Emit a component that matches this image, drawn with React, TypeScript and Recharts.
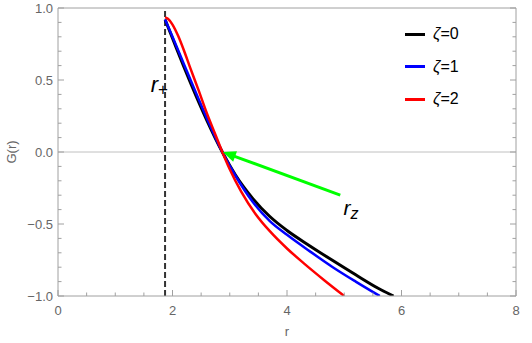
import React from "react";
import { LineChart, Line, XAxis, YAxis, ReferenceLine, ReferenceDot, Legend } from "recharts";

// curve samples (r, G(r))
const rZeta0 = [1.87, 2.0, 2.2, 2.4, 2.6, 2.87, 3.1, 3.4, 3.7, 4.0, 4.4, 4.8, 5.2, 5.6, 5.86];
const gZeta0 = [0.92, 0.79, 0.59, 0.4, 0.22, 0, -0.16, -0.322, -0.448, -0.545, -0.652, -0.754, -0.853, -0.948, -1.0];

const rZeta1 = [1.87, 2.0, 2.2, 2.4, 2.6, 2.87, 3.1, 3.4, 3.7, 4.0, 4.4, 4.8, 5.2, 5.62];
const gZeta1 = [0.92, 0.8, 0.61, 0.42, 0.235, 0, -0.165, -0.345, -0.48, -0.575, -0.69, -0.8, -0.9, -1.0];

const rZeta2 = [1.87, 1.92, 2.0, 2.1, 2.2, 2.3, 2.45, 2.6, 2.75, 2.87, 3.0, 3.2, 3.45, 3.7, 4.0, 4.3, 4.65, 5.0];
const gZeta2 = [0.935, 0.925, 0.885, 0.805, 0.705, 0.595, 0.435, 0.27, 0.12, 0, -0.12, -0.275, -0.43, -0.55, -0.67, -0.775, -0.89, -1.0];

const seriesNames = ["ζ=0", "ζ=1", "ζ=2"];
const zetaValues = ["0", "1", "2"];
const seriesColors = ["#000000", "#0000ff", "#ff0000"];

const xMajorTicks = [0, 2, 4, 6, 8];
const xMinorTicks = [0.5, 1, 1.5, 2.5, 3, 3.5, 4.5, 5, 5.5, 6.5, 7, 7.5];
const yMajorTicks = [-1, -0.5, 0, 0.5, 1];
const yMinorTicks = [-0.9, -0.8, -0.7, -0.6, -0.4, -0.3, -0.2, -0.1, 0.1, 0.2, 0.3, 0.4, 0.6, 0.7, 0.8, 0.9];
const xTickLabels = ["0", "2", "4", "6", "8"];
const yTickLabels = ["\u22121.0", "\u22120.5", "0.0", "0.5", "1.0"];

// annotations
const rPlus = 1.87;
const rZero = 2.88;
const arrowTail = { x: 4.93, y: -0.3 };
const rPlusLabelAt = { x: 1.87, y: 0.45 };
const rZLabelAt = { x: 4.95, y: -0.4 };

const zip = (rs: number[], gs: number[]) => rs.map((r, i) => ({ r, g: gs[i] }));
const series = [zip(rZeta0, gZeta0), zip(rZeta1, gZeta1), zip(rZeta2, gZeta2)];

const xTicks = [...xMajorTicks, ...xMinorTicks].sort((a, b) => a - b);
const yTicks = [...yMajorTicks, ...yMinorTicks].sort((a, b) => a - b);

const FONT = "'Liberation Sans', Arial, sans-serif";
const FRAME = "#a0a0a0";
const LABEL = "#666666";

const BottomTick = (props: any) => {
  const { x, y, payload } = props;
  const i = xMajorTicks.indexOf(payload.value);
  const len = i >= 0 ? 6 : 3.5;
  return (
    <g>
      <line x1={x} y1={y} x2={x} y2={y - len} stroke={FRAME} />
      {i >= 0 && (
        <text x={x} y={y + 19} textAnchor="middle" fill={LABEL} fontSize={13} fontFamily={FONT}>
          {xTickLabels[i]}
        </text>
      )}
    </g>
  );
};

const TopTick = (props: any) => {
  const { x, y, payload } = props;
  const len = xMajorTicks.includes(payload.value) ? 6 : 3.5;
  return <line x1={x} y1={y} x2={x} y2={y + len} stroke={FRAME} />;
};

const LeftTick = (props: any) => {
  const { x, y, payload } = props;
  const i = yMajorTicks.indexOf(payload.value);
  const len = i >= 0 ? 6 : 3.5;
  return (
    <g>
      <line x1={x} y1={y} x2={x + len} y2={y} stroke={FRAME} />
      {i >= 0 && (
        <text x={x - 5} y={y + 4.5} textAnchor="end" fill={LABEL} fontSize={13} fontFamily={FONT}>
          {yTickLabels[i]}
        </text>
      )}
    </g>
  );
};

const RightTick = (props: any) => {
  const { x, y, payload } = props;
  const len = yMajorTicks.includes(payload.value) ? 6 : 3.5;
  return <line x1={x} y1={y} x2={x - len} y2={y} stroke={FRAME} />;
};

const Arrow = (props: any) => {
  const { x1, y1, x2, y2 } = props;
  const dx = x2 - x1;
  const dy = y2 - y1;
  const len = Math.hypot(dx, dy);
  const ux = dx / len;
  const uy = dy / len;
  const headLen = 13;
  const headW = 5.5;
  const bx = x2 - ux * headLen;
  const by = y2 - uy * headLen;
  const pts = `${x2},${y2} ${bx - uy * headW},${by + ux * headW} ${bx + uy * headW},${by - ux * headW}`;
  return (
    <g>
      <line x1={x1} y1={y1} x2={bx + ux * 2} y2={by + uy * 2} stroke="#00ff00" strokeWidth={3} />
      <polygon points={pts} fill="#00ff00" />
    </g>
  );
};

const RPlusLabel = (props: any) => {
  const { x, y } = props.viewBox;
  return (
    <text x={x + 3} y={y + 5} textAnchor="end" fontFamily={FONT} fill="#000">
      <tspan fontSize={22} fontStyle="italic">r</tspan>
      <tspan fontSize={17} dy={3}>+</tspan>
    </text>
  );
};

const RZLabel = (props: any) => {
  const { x, y } = props.viewBox;
  return (
    <text x={x + 2} y={y + 5} fontFamily={FONT} fill="#000" fontStyle="italic">
      <tspan fontSize={21}>r</tspan>
      <tspan fontSize={16} dy={4}>z</tspan>
    </text>
  );
};

const LegendBox = () => (
  <div style={{ fontFamily: FONT, fontSize: 16, color: "#000" }}>
    {seriesNames.map((name, i) => (
      <div key={name} style={{ display: "flex", alignItems: "center", height: 32.5 }}>
        <span style={{ display: "inline-block", width: 20, height: 3, background: seriesColors[i], marginRight: 8 }} />
        <span>
          <i>ζ</i>={zetaValues[i]}
        </span>
      </div>
    ))}
  </div>
);

export default function App() {
  return (
    <div style={{ position: "absolute", left: 0, top: 0, background: "#fff" }}>
      <LineChart width={532} height={343} margin={{ top: 7, right: 15, left: 57, bottom: 46 }}>
        <XAxis
          type="number"
          dataKey="r"
          domain={[0, 8]}
          ticks={xTicks}
          interval={0}
          height={1}
          tickSize={0}
          tickMargin={0}
          tickLine={false}
          tick={BottomTick}
          axisLine={{ stroke: FRAME }}
          allowDataOverflow
          label={{ value: "r", position: "bottom", offset: 30, fill: LABEL, fontSize: 13, fontFamily: FONT }}
        />
        <XAxis
          xAxisId="top"
          orientation="top"
          type="number"
          domain={[0, 8]}
          ticks={xTicks}
          interval={0}
          height={1}
          tickSize={0}
          tickMargin={0}
          tickLine={false}
          tick={TopTick}
          axisLine={{ stroke: FRAME }}
          allowDataOverflow
        />
        <YAxis
          type="number"
          domain={[-1, 1]}
          ticks={yTicks}
          interval={0}
          width={1}
          tickSize={0}
          tickMargin={0}
          tickLine={false}
          tick={LeftTick}
          axisLine={{ stroke: FRAME }}
          allowDataOverflow
          label={{
            value: "G(r)",
            angle: -90,
            position: "left",
            offset: 46,
            fill: LABEL,
            fontSize: 13,
            fontFamily: FONT,
            style: { textAnchor: "middle" },
          }}
        />
        <YAxis
          yAxisId="right"
          orientation="right"
          type="number"
          domain={[-1, 1]}
          ticks={yTicks}
          interval={0}
          width={1}
          tickSize={0}
          tickMargin={0}
          tickLine={false}
          tick={RightTick}
          axisLine={{ stroke: FRAME }}
          allowDataOverflow
        />
        <ReferenceLine y={0} stroke="#c0c0c0" strokeWidth={1} />
        <ReferenceLine x={rPlus} stroke="#333" strokeWidth={2} strokeDasharray="6 3" />
        {series.map((data, i) => (
          <Line
            key={seriesNames[i]}
            data={data}
            dataKey="g"
            name={seriesNames[i]}
            type="monotone"
            stroke={seriesColors[i]}
            strokeWidth={i === 0 ? 3 : 2.5}
            dot={false}
            activeDot={false}
            isAnimationActive={false}
          />
        ))}
        <ReferenceLine segment={[arrowTail, { x: rZero, y: 0 }]} shape={Arrow} />
        <ReferenceDot x={rPlusLabelAt.x} y={rPlusLabelAt.y} r={0} fill="none" stroke="none" label={{ content: RPlusLabel }} />
        <ReferenceDot x={rZLabelAt.x} y={rZLabelAt.y} r={0} fill="none" stroke="none" label={{ content: RZLabel }} />
        <Legend
          layout="vertical"
          align="center"
          verticalAlign="middle"
          content={LegendBox}
          wrapperStyle={{ top: 18, left: 405, width: 80, height: 100 }}
        />
      </LineChart>
    </div>
  );
}
